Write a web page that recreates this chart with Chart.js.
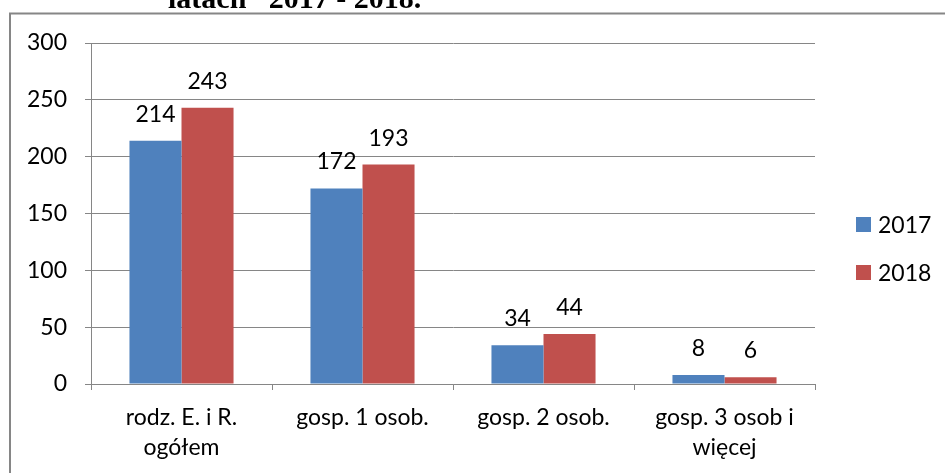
<!DOCTYPE html>
<html>
<head>
<meta charset="utf-8">
<script src="https://cdn.jsdelivr.net/npm/chart.js@4.4.1/dist/chart.umd.min.js"></script>
<style>
  html, body { margin: 0; padding: 0; background: #fff; }
  #wrap { width: 945px; height: 473px; position: relative; }
</style>
</head>
<body>
<div id="wrap"><canvas id="chart" width="945" height="473"></canvas></div>
<script>
// dane z wykresu
const categories = [
    ['rodz. E. i R.', 'ogółem'],
    'gosp. 1 osob.',
    'gosp. 2 osob.',
    ['gosp. 3 osob i', 'więcej']
];
const years = ['2017', '2018'];
const values2017 = [214, 172, 34, 8];
const values2018 = [243, 193, 44, 6];
const yTicks = [0, 50, 100, 150, 200, 250, 300];
const colors = ['#4F81BD', '#C0504D'];

const FONT = 'Lato, "Open Sans", sans-serif';
const FSIZE = 23;
const GRID = '#868686';

// ramka, tytuł (obcięty), etykiety i legenda
const decorPlugin = {
    id: 'decor',
    beforeDraw(chart) {
        const ctx = chart.ctx;
        ctx.save();
        ctx.fillStyle = '#fff';
        ctx.fillRect(0, 0, chart.width, chart.height);
        ctx.strokeStyle = GRID;
        ctx.lineWidth = 2;
        ctx.strokeRect(10, 13.5, chart.width + 20, chart.height + 20);
        ctx.fillStyle = '#000';
        ctx.font = 'bold 30px "Liberation Serif", serif';
        ctx.textBaseline = 'alphabetic';
        ctx.fillText('latach   2017 - 2018.', 168, 7.5);
        ctx.restore();
    },
    afterDatasetsDraw(chart) {
        const ctx = chart.ctx;
        ctx.save();
        ctx.font = FSIZE + 'px ' + FONT;
        ctx.fillStyle = '#000';
        ctx.textAlign = 'center';
        ctx.textBaseline = 'alphabetic';
        chart.data.datasets.forEach((ds, i) => {
            chart.getDatasetMeta(i).data.forEach((bar, j) => {
                ctx.fillText(String(ds.data[j]), bar.x, bar.y - 19);
            });
        });
        // legenda
        ctx.textAlign = 'left';
        ctx.textBaseline = 'middle';
        chart.data.datasets.forEach((ds, i) => {
            const cy = 224.5 + i * 48;
            ctx.fillStyle = ds.backgroundColor;
            ctx.fillRect(856, cy - 7.5, 15, 15);
            ctx.fillStyle = '#000';
            ctx.fillText(ds.label, 878, cy + 1);
        });
        ctx.restore();
    }
};

new Chart(document.getElementById('chart'), {
    type: 'bar',
    data: {
        labels: categories,
        datasets: [
            { label: years[0], data: values2017, backgroundColor: colors[0] },
            { label: years[1], data: values2018, backgroundColor: colors[1] }
        ]
    },
    options: {
        responsive: false,
        animation: false,
        devicePixelRatio: 1,
        layout: { padding: { left: 0, top: 43, right: 130, bottom: 0 } },
        plugins: {
            legend: { display: false },
            tooltip: { enabled: false }
        },
        datasets: {
            bar: { categoryPercentage: 0.575, barPercentage: 1.0 }
        },
        scales: {
            x: {
                afterFit(scale) { scale.height = 89; },
                grid: {
                    offset: true,
                    drawOnChartArea: false,
                    color: GRID,
                    tickLength: 6
                },
                border: { color: GRID, width: 1 },
                ticks: {
                    color: '#000',
                    padding: 13,
                    maxRotation: 0,
                    autoSkip: false,
                    font: { family: FONT, size: FSIZE, lineHeight: 1.3 }
                }
            },
            y: {
                min: 0,
                max: 300,
                afterFit(scale) { scale.width = 91; },
                afterBuildTicks(scale) { scale.ticks = yTicks.map(v => ({ value: v })); },
                grid: { color: GRID, tickLength: 6 },
                border: { color: GRID, width: 1 },
                ticks: {
                    color: '#000',
                    padding: 18,
                    font: { family: FONT, size: FSIZE }
                }
            }
        }
    },
    plugins: [decorPlugin]
});
</script>
</body>
</html>
